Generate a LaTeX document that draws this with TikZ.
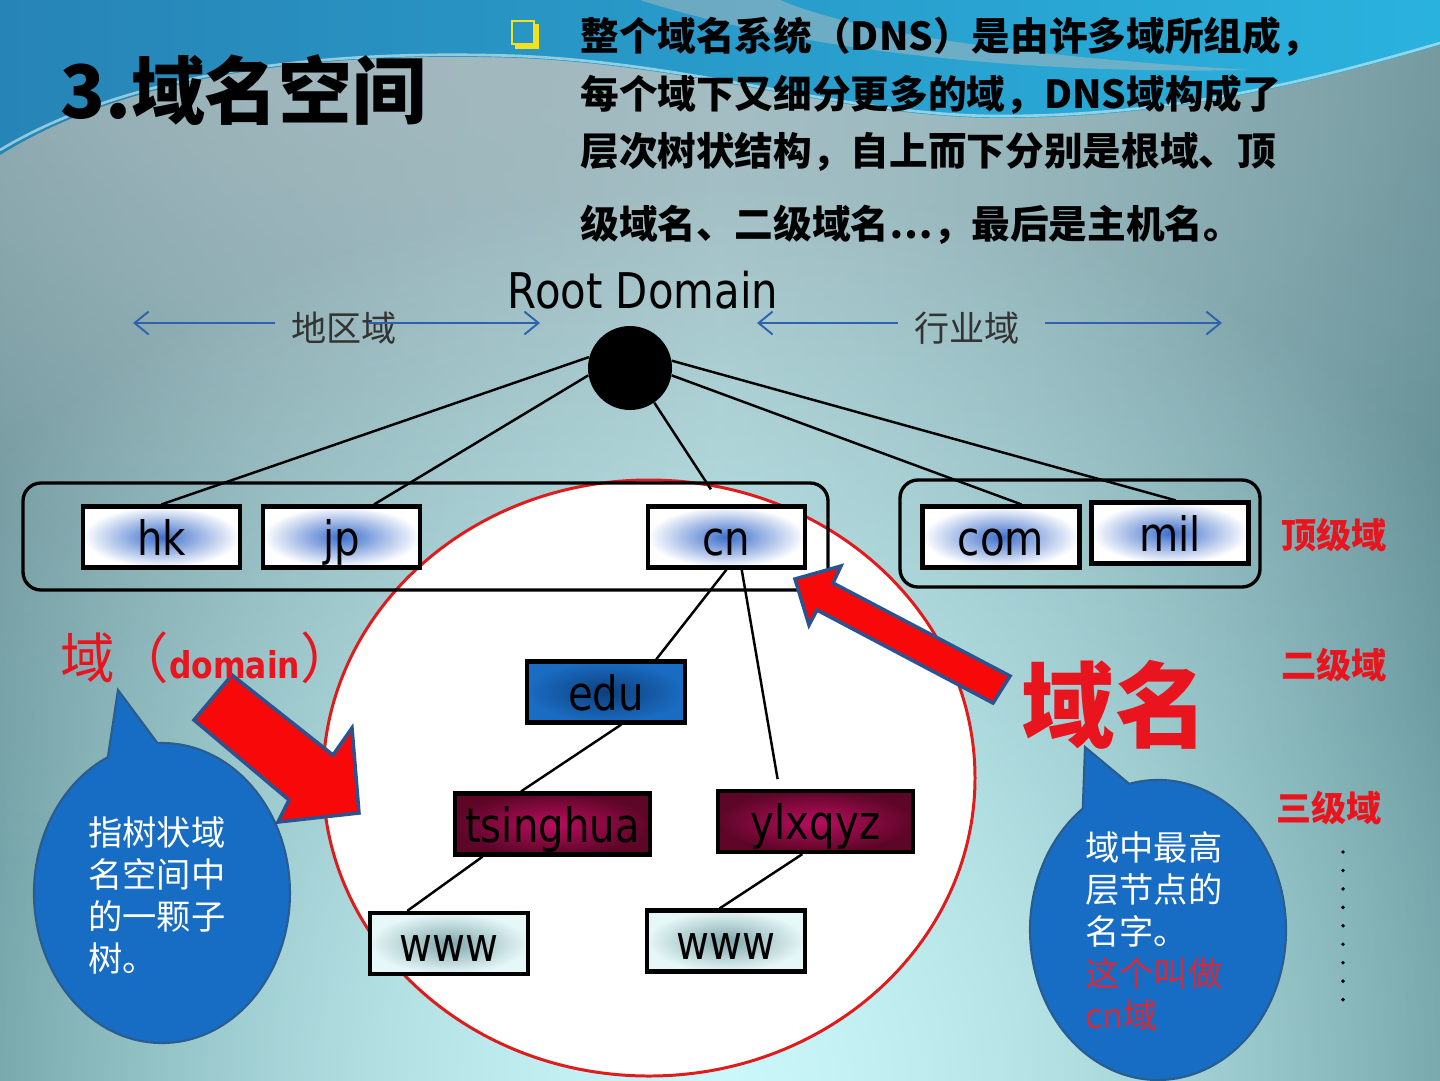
\documentclass[tikz,border=0pt]{standalone}
\usepackage{fontspec}
\newfontfamily\cjk{Noto Sans CJK SC}
\newfontfamily\labelfont[FakeStretch=0.85]{DejaVu Sans}
\usetikzlibrary{arrows.meta,fadings}

\definecolor{edgeteal}{HTML}{5A8A90}
\definecolor{midteal}{HTML}{A2D2D6}
\definecolor{topgray}{HTML}{A4B8BE}
\definecolor{glowcyan}{HTML}{CBF8FA}
\definecolor{bandleft}{HTML}{2784B6}
\definecolor{bandright}{HTML}{2AB2DE}
\definecolor{sheen}{HTML}{BFE6EE}
\definecolor{tldglow}{HTML}{3E6FCB}
\definecolor{eduinner}{HTML}{0E3F7C}
\definecolor{eduouter}{HTML}{1A6CC2}
\definecolor{orginner}{HTML}{B80E5E}
\definecolor{orgouter}{HTML}{5E0628}
\definecolor{hostinner}{HTML}{7FA7AC}
\definecolor{hostouter}{HTML}{E6F7F7}
\definecolor{ringred}{HTML}{E01B1B}
\definecolor{arrowred}{HTML}{F80808}
\definecolor{arrowedge}{HTML}{2B5390}
\definecolor{bubbleblue}{HTML}{176CC4}
\definecolor{bubbleedge}{HTML}{2A5C8E}
\definecolor{notered}{HTML}{E8141E}
\definecolor{cnred}{HTML}{D42A3A}
\definecolor{sideblue}{HTML}{2E62AE}
\definecolor{sidegray}{HTML}{333333}
\definecolor{bulletyellow}{HTML}{F2E21E}

\tikzfading[name=glowfade, inner color=transparent!0, outer color=transparent!100]

\tikzset{>={Straight Barb[length=8pt,width=13pt]},
  titletext/.style={font=\cjk\bfseries\fontsize{42}{48}\selectfont, text=black, inner sep=0pt},
  bodytext/.style={font=\cjk\bfseries\fontsize{22}{27}\selectfont, text=black, inner sep=0pt},
  sidelabel/.style={font=\cjk\fontsize{20}{24}\selectfont, text=sidegray, inner sep=0pt},
  sidearrow/.style={draw=sideblue, line width=1.1pt},
  rootdot/.style={circle, fill=black, minimum size=1.68cm, inner sep=0pt},
  dombox/.style={draw=black, line width=2.4pt, inner sep=0pt, minimum height=1.22cm, text=black, text height=24pt, text depth=3pt, font=\labelfont\fontsize{27}{30}\selectfont},
  tldbox/.style={dombox, minimum width=3.14cm, inner color=tldglow, outer color=white},
  sldbox/.style={dombox, minimum width=3.16cm, inner color=eduinner, outer color=eduouter},
  orgbox/.style={dombox, minimum width=3.9cm, inner color=orginner, outer color=orgouter},
  hostbox/.style={dombox, minimum width=3.16cm, inner color=hostinner, outer color=hostouter},
  groupbox/.style={draw=black, line width=1.9pt, rounded corners=0.36cm},
  treeline/.style={draw=black, line width=1.4pt},
  ring/.style={fill=white, draw=ringred, line width=1.7pt},
  bigarrow/.style={fill=arrowred, draw=arrowedge, line width=2pt, line join=miter},
  bubble/.style={fill=bubbleblue, draw=bubbleedge, line width=1.2pt},
  bubbletext/.style={font=\cjk\fontsize{19.5}{24}\selectfont, text=white, align=left, inner sep=0pt},
  levellabel/.style={font=\cjk\bfseries\fontsize{20}{24}\selectfont, text=notered, inner sep=0pt},
  dotline/.style={draw=black, line width=2.2pt, line cap=round, dash pattern=on 0pt off 10.5pt}}

\begin{document}
\begin{tikzpicture}[x=0.02cm, y=-0.02cm]
  \useasboundingbox (0,0) rectangle (1440,1080);
  % background
  \begin{scope}
    \clip (0,0) rectangle (1440,1080);
    \shade[left color=edgeteal, right color=edgeteal, middle color=midteal] (0,0) rectangle (1440,1080);
    \fill[topgray, path fading=glowfade] (420,0) ellipse [x radius=1600, y radius=900];
    \fill[glowcyan, path fading=glowfade] (720,1080) ellipse [x radius=1000, y radius=900];
    \shade[left color=bandleft, right color=bandright] (0,0) -- (1440,0) -- (1440,45)
      .. controls (1320,80) and (1180,118) .. (1000,118)
      .. controls (850,118) and (700,66) .. (520,58)
      .. controls (300,50) and (120,80) .. (0,155) -- cycle;
    \fill[topgray, opacity=0.55] (640,0) .. controls (780,45) and (1000,75) .. (1250,70)
      .. controls (1000,55) and (850,30) .. (780,0) -- cycle;
    \draw[sheen, line width=1.5pt, opacity=0.7] (0,150) .. controls (120,78) and (300,48) .. (520,56)
      .. controls (700,64) and (850,116) .. (1000,116) .. controls (1180,116) and (1320,78) .. (1440,43);
  \end{scope}

  % heading and text
  \node[titletext, anchor=west] (title) at (60,90) {3.域名空间};
  \draw[bulletyellow, line width=1.2pt] (512,21) rectangle (534,44);
  \draw[bulletyellow, line width=2.5pt] (515,47) -- (537,47) -- (537,24);
  \node[bodytext, anchor=west] (lineA) at (580,37) {整个域名系统（DNS）是由许多域所组成，};
  \node[bodytext, anchor=west] (lineB) at (580,95) {每个域下又细分更多的域，DNS域构成了};
  \node[bodytext, anchor=west] (lineC) at (580,152) {层次树状结构，自上而下分别是根域、顶};
  \node[bodytext, anchor=west] (lineD) at (580,225) {级域名、二级域名…，最后是主机名。};

  \node[font=\labelfont\fontsize{28}{30}\selectfont, inner sep=0pt] (rootname) at (643,290) {Root Domain};

  % region / industry arrows
  \node[sidelabel] (region) at (344,328) {地区域};
  \node[sidelabel] (industry) at (967,328) {行业域};
  \coordinate (regL) at (133,323);  \coordinate (regLs) at (275,323);
  \coordinate (regRs) at (368,323); \coordinate (regR) at (540,323);
  \coordinate (indL) at (757,323);  \coordinate (indLs) at (898,323);
  \coordinate (indRs) at (1045,323); \coordinate (indR) at (1222,323);
  \draw[sidearrow,->] (regLs) -- (regL);
  \draw[sidearrow,->] (regRs) -- (regR);
  \draw[sidearrow,->] (indLs) -- (indL);
  \draw[sidearrow,->] (indRs) -- (indR);

  % the cn subtree
  \draw[ring] (649,778) ellipse [x radius=326, y radius=298];
  \draw[groupbox] (23,483) rectangle (828,590);
  \draw[groupbox] (900,480) rectangle (1260,587);

  \node[rootdot] (root) at (630,368) {};
  \node[tldbox] (hk) at (161.5,537) {hk};
  \node[tldbox] (jp) at (341.5,537) {jp};
  \node[tldbox] (cn) at (726.5,537) {cn};
  \node[tldbox] (com) at (1001,537) {com};
  \node[tldbox] (mil) at (1170,533) {mil};
  \node[sldbox] (edu) at (606,692) {edu};
  \node[orgbox] (tsinghua) at (552.5,824) {tsinghua};
  \node[orgbox] (ylxqyz) at (815.5,821.5) {ylxqyz};
  \node[hostbox] (wwwa) at (449,943.5) {www};
  \node[hostbox] (wwwb) at (726,941) {www};

  \draw[treeline] (root.165) -- (hk.north);
  \draw[treeline] (root.190) -- (jp.45);
  \draw[treeline, shorten >=0.36cm] (root.-55) -- (cn.100);
  \draw[treeline] (root.-10) -- (com.58);
  \draw[treeline] (root.10) -- (mil.80);
  \draw[treeline] (cn.south) -- (edu.33);
  \draw[treeline, shorten >=0.2cm] (cn.-65) -- (ylxqyz.138);
  \draw[treeline] (edu.-65) -- (tsinghua.134);
  \draw[treeline] (tsinghua.-155) -- (wwwa.142);
  \draw[treeline] (ylxqyz.-112) -- (wwwb.101);

  % callouts
  \draw[bubble] (118,690) -- (157.5,743.1) arc[start angle=-92, end angle=245, x radius=128, y radius=150] -- cycle;
  \node[bubbletext, anchor=north west] (treenote) at (88,816) {指树状域\\名空间中\\的一颗子\\树。};
  \draw[bubble] (1085,747) -- (1129.2,783.8) arc[start angle=-103, end angle=234, x radius=128, y radius=150] -- cycle;
  \node[bubbletext, anchor=north west] (namenote) at (1085,831) {域中最高\\层节点的\\名字。\\{\color{cnred}这个叫做}\\{\color{cnred}cn域}};

  \draw[bigarrow] (232,675) -- (333,755) -- (352,728) -- (359,813) -- (278,822) -- (289,800) -- (194,720) -- cycle;
  \draw[bigarrow] (795,579) -- (841,566) -- (833,583) -- (1010,676) -- (993,703) -- (817,610) -- (809,625) -- cycle;

  \node[font=\cjk\fontsize{31}{34}\selectfont, text=notered, inner sep=0pt, anchor=west] (domainword) at (60,658)
    {域（{\labelfont\bfseries\fontsize{21}{24}\selectfont domain}）};
  \node[font=\cjk\bfseries\fontsize{53}{58}\selectfont, text=notered, inner sep=0pt] (domainname) at (1115,705) {域名};

  % level labels
  \node[levellabel] (tld) at (1334,535) {顶级域};
  \node[levellabel] (sld) at (1334,665) {二级域};
  \node[levellabel] (thld) at (1329,808) {三级域};
  \draw[dotline] (1343,852) -- (1343,1005);
\end{tikzpicture}
\end{document}
